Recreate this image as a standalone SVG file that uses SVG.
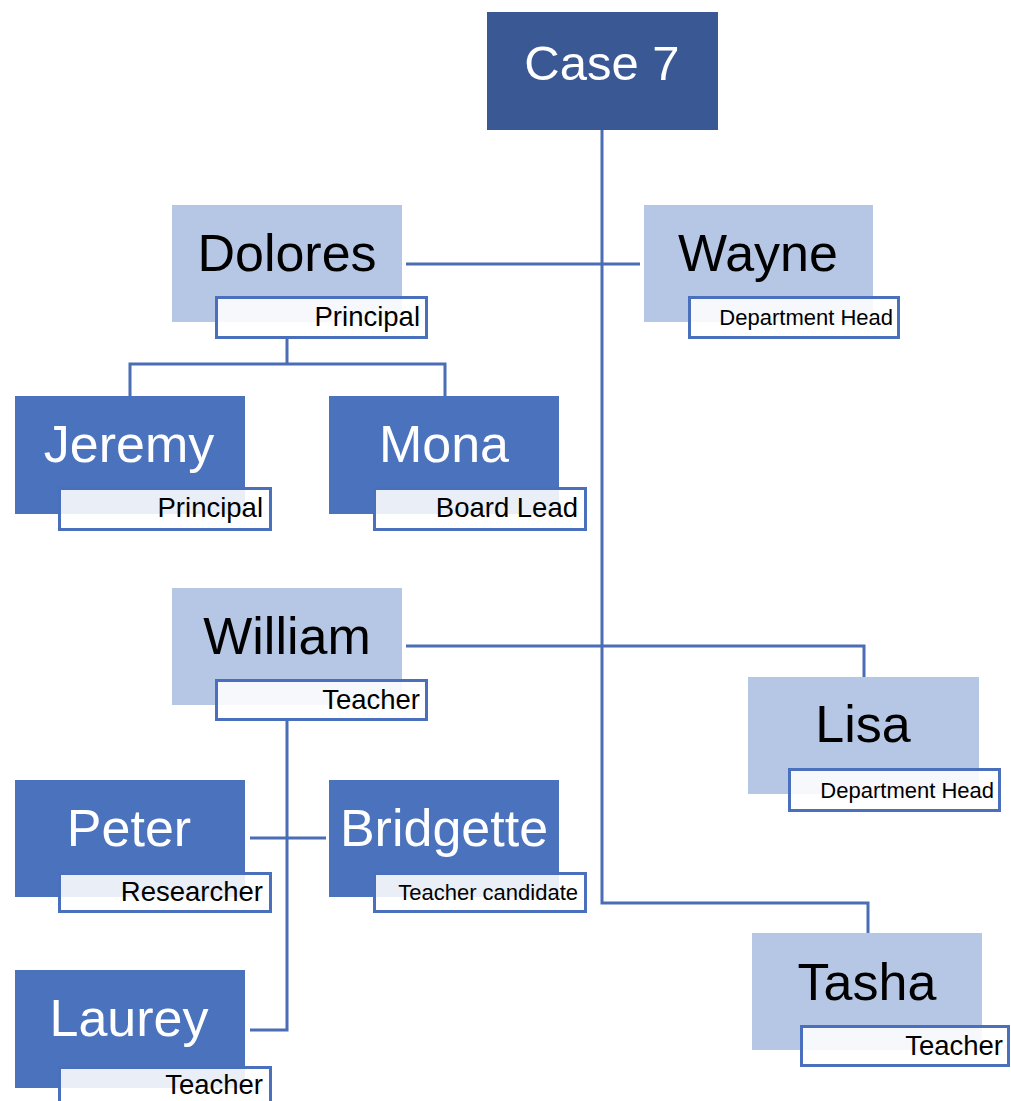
<svg xmlns="http://www.w3.org/2000/svg" width="1011" height="1101" viewBox="0 0 1011 1101">
  <style>
    .top { fill: #3a5894; }
    .dark { fill: #4b72bd; }
    .light { fill: #b6c7e5; }
    .tag { fill: #ffffff; fill-opacity: 0.88; stroke: #4a70bd; stroke-width: 3; }
    .name { font-family: "Liberation Sans", Arial, sans-serif; font-size: 52px; text-anchor: middle; }
    .onDark { fill: #ffffff; }
    .onLight { fill: #000000; }
    .role { font-family: "Liberation Sans", Arial, sans-serif; font-size: 27.5px; text-anchor: end; fill: #000000; }
    .role.small { font-size: 22px; }
    .link { fill: none; stroke: #4a6db5; stroke-width: 3; }
  </style>

  <!-- connectors -->
  <g id="connectors">
    <path class="link" d="M602,130 V903 H868 V933"/>
    <path class="link" d="M406,264 H640"/>
    <path class="link" d="M406,646 H864 V677"/>
    <path class="link" d="M287,339 V364"/>
    <path class="link" d="M130,396 V364 H445 V396"/>
    <path class="link" d="M287,721 V1030 H250"/>
    <path class="link" d="M250,838 H326"/>
  </g>

  <g id="case7">
    <rect class="top" x="487" y="12" width="231" height="118"/>
    <text class="name onDark" x="602" y="80" style="font-size:49px">Case 7</text>
  </g>

  <g id="dolores">
    <rect class="light" x="172" y="205" width="230" height="117"/>
    <text class="name onLight" x="287" y="271">Dolores</text>
    <rect class="tag" x="216.5" y="297.5" width="210" height="40"/>
    <text class="role" x="420" y="326">Principal</text>
  </g>

  <g id="wayne">
    <rect class="light" x="644" y="205" width="229" height="117"/>
    <text class="name onLight" x="758" y="271">Wayne</text>
    <rect class="tag" x="689.5" y="297.5" width="209" height="40"/>
    <text class="role small" x="893" y="325">Department Head</text>
  </g>

  <g id="jeremy">
    <rect class="dark" x="15" y="396" width="230" height="118"/>
    <text class="name onDark" x="129" y="462">Jeremy</text>
    <rect class="tag" x="59.5" y="488.5" width="211" height="41"/>
    <text class="role" x="263" y="517">Principal</text>
  </g>

  <g id="mona">
    <rect class="dark" x="329" y="396" width="230" height="118"/>
    <text class="name onDark" x="444" y="462">Mona</text>
    <rect class="tag" x="374.5" y="488.5" width="211" height="41"/>
    <text class="role" x="578" y="517">Board Lead</text>
  </g>

  <g id="william">
    <rect class="light" x="172" y="588" width="230" height="117"/>
    <text class="name onLight" x="287" y="654">William</text>
    <rect class="tag" x="216.5" y="680.5" width="210" height="39"/>
    <text class="role" x="420" y="709">Teacher</text>
  </g>

  <g id="lisa">
    <rect class="light" x="748" y="677" width="231" height="117"/>
    <text class="name onLight" x="863" y="742">Lisa</text>
    <rect class="tag" x="789.5" y="769.5" width="210" height="41"/>
    <text class="role small" x="994" y="798">Department Head</text>
  </g>

  <g id="peter">
    <rect class="dark" x="15" y="780" width="230" height="117"/>
    <text class="name onDark" x="129" y="846">Peter</text>
    <rect class="tag" x="59.5" y="873.5" width="211" height="38"/>
    <text class="role" x="263" y="901">Researcher</text>
  </g>

  <g id="bridgette">
    <rect class="dark" x="329" y="780" width="230" height="117"/>
    <text class="name onDark" x="444" y="846">Bridgette</text>
    <rect class="tag" x="374.5" y="873.5" width="211" height="38"/>
    <text class="role small" x="578" y="900">Teacher candidate</text>
  </g>

  <g id="laurey">
    <rect class="dark" x="15" y="970" width="230" height="118"/>
    <text class="name onDark" x="129" y="1036">Laurey</text>
    <rect class="tag" x="59.5" y="1067.5" width="211" height="45"/>
    <text class="role" x="263" y="1094">Teacher</text>
  </g>

  <g id="tasha">
    <rect class="light" x="752" y="933" width="230" height="117"/>
    <text class="name onLight" x="867" y="1000">Tasha</text>
    <rect class="tag" x="801.5" y="1026.5" width="207" height="39"/>
    <text class="role" x="1003" y="1055">Teacher</text>
  </g>
</svg>
